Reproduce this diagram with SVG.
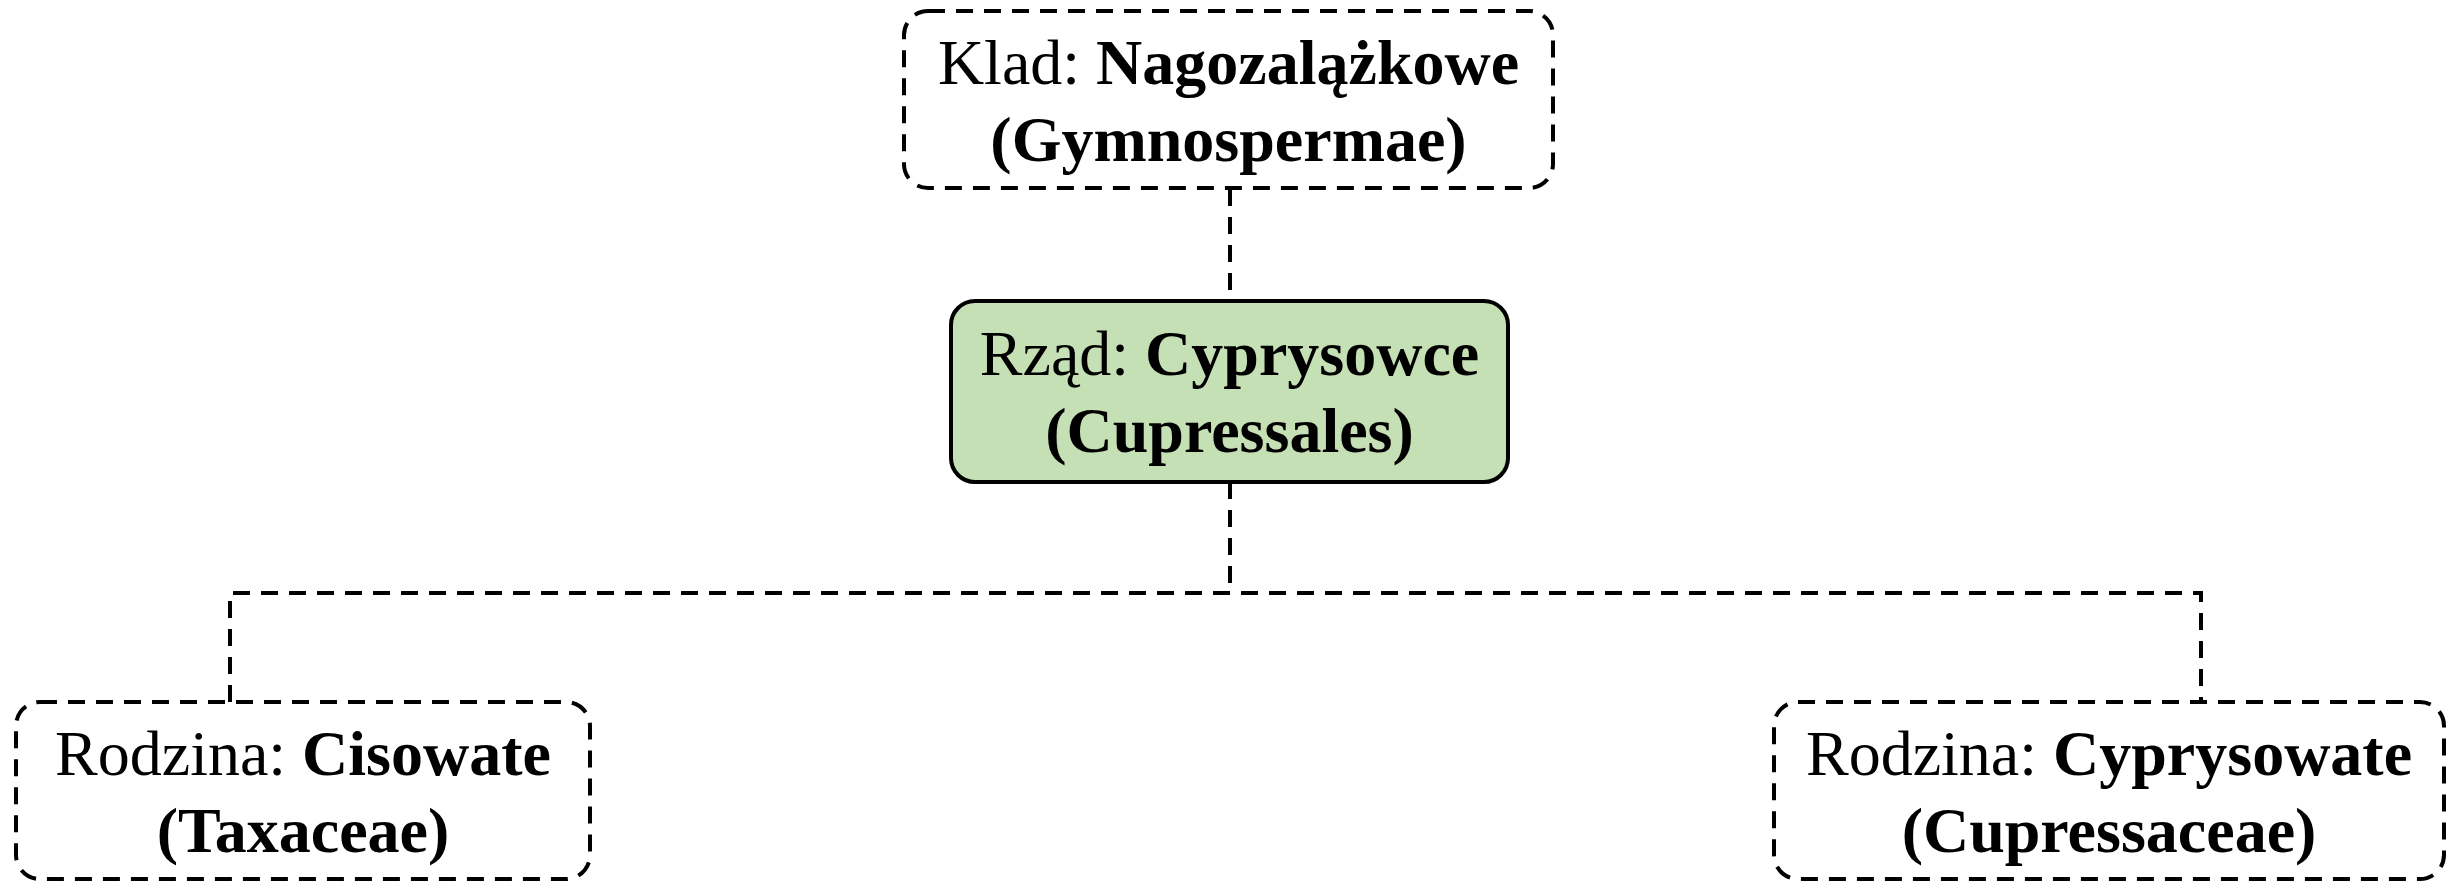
<svg xmlns="http://www.w3.org/2000/svg" width="2453" height="882" viewBox="0 0 2453 882">
<style>
.box{fill:#ffffff;stroke:#000;stroke-width:4;stroke-dasharray:17 11}
.solid{fill:#C5E0B4;stroke:#000;stroke-width:4}
.conn{fill:none;stroke:#000;stroke-width:4;stroke-dasharray:17 11}
text{font-family:"Liberation Serif","Times New Roman",serif;font-size:64px;fill:#000;text-anchor:middle}
.b{font-weight:bold}
</style>
<rect width="2453" height="882" fill="#fff"/>
<g id="connectors">
<path class="conn" d="M1230 189 V300"/>
<path class="conn" d="M1230 482 V593"/>
<path class="conn" d="M230 702 V593 H2201 V702"/>
</g>
<g id="node-klad">
<rect class="box" x="904" y="11" width="649" height="177" rx="24"/>
<text x="1228.5" y="84">Klad: <tspan class="b">Nagozalążkowe</tspan></text>
<text x="1228.5" y="161" class="b">(Gymnospermae)</text>
</g>
<g id="node-rzad">
<rect class="solid" x="951" y="301" width="557" height="181" rx="24"/>
<text x="1229.5" y="375">Rząd: <tspan class="b">Cyprysowce</tspan></text>
<text x="1229.5" y="452" class="b">(Cupressales)</text>
</g>
<g id="node-cisowate">
<rect class="box" x="16" y="702" width="574" height="177" rx="24"/>
<text x="303" y="775">Rodzina: <tspan class="b">Cisowate</tspan></text>
<text x="303" y="852" class="b">(Taxaceae)</text>
</g>
<g id="node-cyprysowate">
<rect class="box" x="1774" y="702" width="670" height="177" rx="24"/>
<text x="2109" y="775">Rodzina: <tspan class="b">Cyprysowate</tspan></text>
<text x="2109" y="852" class="b">(Cupressaceae)</text>
</g>
</svg>
